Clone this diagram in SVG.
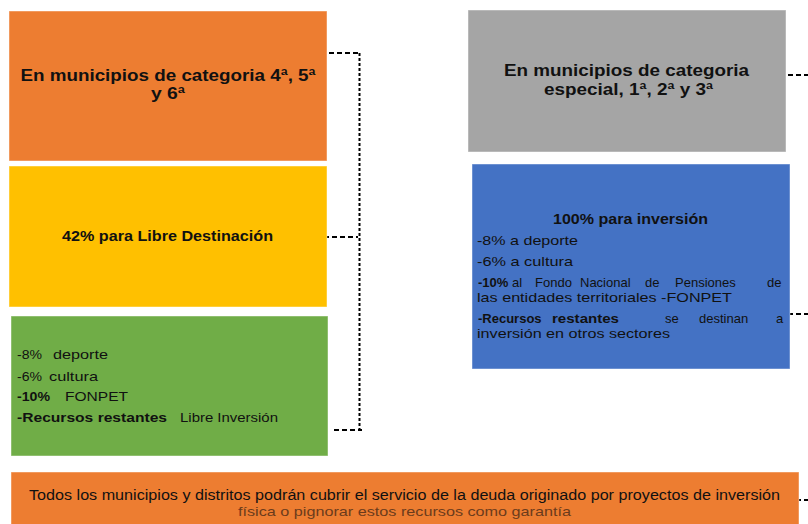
<svg xmlns="http://www.w3.org/2000/svg" width="808" height="524" viewBox="0 0 808 524">
<style>
.box{stroke:#ffffff;stroke-opacity:0.45;stroke-width:1}
.t{font-family:"Liberation Sans",Arial,sans-serif;fill:#111111}
.b{font-weight:bold}
.h{font-size:16.5px;font-weight:bold}
.s{font-size:13px}
.c{text-anchor:middle}
.dh{fill:none;stroke:#000;stroke-width:2;stroke-dasharray:5 3}
.dv{fill:none;stroke:#000;stroke-width:2;stroke-dasharray:3 2}
</style>
<rect width="808" height="524" fill="#ffffff"/>
<g id="connectors">
<path class="dh" d="M329 53 H360"/>
<path class="dv" d="M359.5 53 V430"/>
<path class="dh" d="M324 237 H358"/>
<path class="dh" d="M334 430 H362"/>
<path class="dh" d="M788 75 H808"/>
<path class="dh" d="M788 314 H808"/>
<path class="dh" d="M788 500 H808"/>
</g>
<g id="node-cat456">
<rect class="box" x="9" y="11" width="318" height="150" fill="#ED7D31"/>
<text class="t h c" x="168" y="81" textLength="295" lengthAdjust="spacingAndGlyphs">En municipios de categoria 4ª, 5ª</text>
<text class="t h c" x="168" y="99" textLength="34" lengthAdjust="spacingAndGlyphs">y 6ª</text>
</g>
<g id="node-libre">
<rect class="box" x="9" y="166" width="318" height="141" fill="#FFC000"/>
<text class="t b c" font-size="15" x="167.5" y="241" textLength="211" lengthAdjust="spacingAndGlyphs">42% para Libre Destinación</text>
</g>
<g id="node-verde">
<rect class="box" x="11" y="316" width="317" height="140" fill="#70AD47"/>
<text class="t s" x="17" y="359" textLength="25" lengthAdjust="spacingAndGlyphs">-8%</text>
<text class="t s" x="53" y="359" textLength="55" lengthAdjust="spacingAndGlyphs">deporte</text>
<text class="t s" x="17" y="381" textLength="25" lengthAdjust="spacingAndGlyphs">-6%</text>
<text class="t s" x="49" y="381" textLength="49" lengthAdjust="spacingAndGlyphs">cultura</text>
<text class="t s b" x="17" y="401" textLength="33" lengthAdjust="spacingAndGlyphs">-10%</text>
<text class="t s" x="65" y="401" textLength="63" lengthAdjust="spacingAndGlyphs">FONPET</text>
<text class="t s b" x="17" y="422" textLength="150" lengthAdjust="spacingAndGlyphs">-Recursos restantes</text>
<text class="t s" x="180" y="422" textLength="98" lengthAdjust="spacingAndGlyphs">Libre Inversión</text>
</g>
<g id="node-especial">
<rect class="box" x="468" y="10" width="318" height="142" fill="#A5A5A5"/>
<text class="t h c" x="626.5" y="76" textLength="245" lengthAdjust="spacingAndGlyphs">En municipios de categoria</text>
<text class="t h c" x="628.5" y="95" textLength="169" lengthAdjust="spacingAndGlyphs">especial, 1ª, 2ª y 3ª</text>
</g>
<g id="node-inversion">
<rect class="box" x="472" y="164" width="318" height="205" fill="#4472C4"/>
<text class="t b c" font-size="14.5" x="630.5" y="224" textLength="155" lengthAdjust="spacingAndGlyphs">100% para inversión</text>
<text class="t s" x="477" y="245" textLength="101" lengthAdjust="spacingAndGlyphs">-8% a deporte</text>
<text class="t s" x="477" y="266" textLength="96" lengthAdjust="spacingAndGlyphs">-6% a cultura</text>
<text class="t s b" x="478" y="287">-10%</text>
<text class="t s" y="287"><tspan x="512">al</tspan><tspan x="535">Fondo</tspan><tspan x="580">Nacional</tspan><tspan x="645">de</tspan><tspan x="675">Pensiones</tspan><tspan x="767">de</tspan></text>
<text class="t s" x="477" y="302" textLength="255" lengthAdjust="spacingAndGlyphs">las entidades territoriales -FONPET</text>
<text class="t s b" x="478" y="323">-Recursos</text>
<text class="t s b" x="552" y="323" textLength="67" lengthAdjust="spacingAndGlyphs">restantes</text>
<text class="t s" y="323"><tspan x="665">se</tspan><tspan x="699">destinan</tspan><tspan x="776">a</tspan></text>
<text class="t s" x="477" y="338" textLength="193" lengthAdjust="spacingAndGlyphs">inversión en otros sectores</text>
</g>
<g id="node-deuda">
<rect class="box" x="11" y="472" width="788" height="54" fill="#ED7D31"/>
<text class="t" font-size="15.5" x="29" y="500" textLength="751" lengthAdjust="spacingAndGlyphs">Todos los municipios y distritos podrán cubrir el servicio de la deuda originado por proyectos de inversión</text>
<text class="t" font-size="13.5" x="238" y="516" textLength="333" lengthAdjust="spacingAndGlyphs" style="fill:#6b3b1c">física o pignorar estos recursos como garantía</text>
</g>
</svg>
